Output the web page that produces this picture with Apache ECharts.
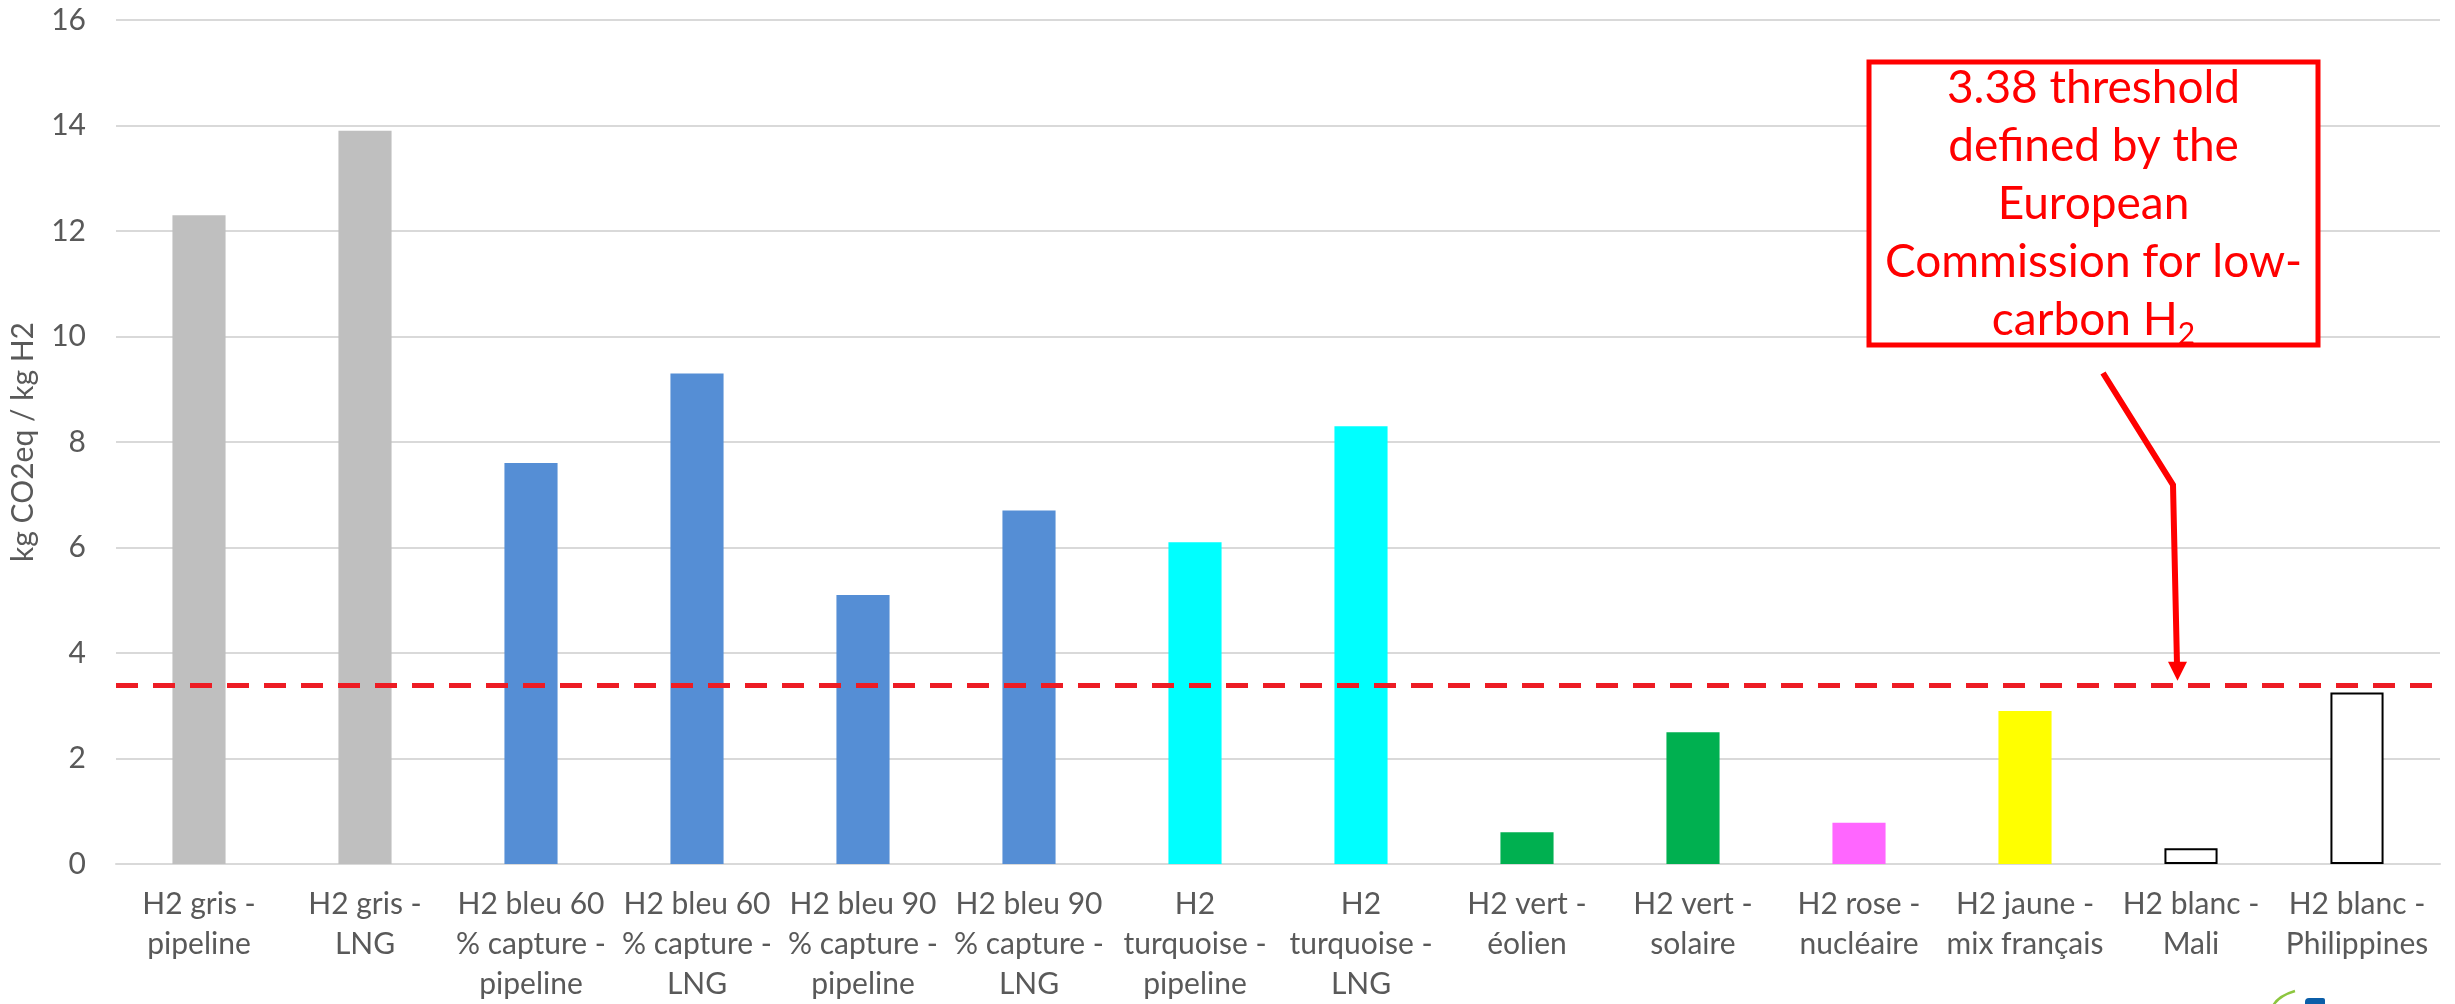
<!DOCTYPE html>
<html>
<head>
<meta charset="utf-8">
<style>
  html, body { margin: 0; padding: 0; background: #ffffff; }
  #chart { width: 2455px; height: 1004px; }
</style>
<script src="https://cdn.jsdelivr.net/npm/echarts@6/dist/echarts.min.js"></script>
</head>
<body>
<div id="chart"></div>
<script>
// Hydrogen production pathways (category labels, wrapped as displayed)
const categories = [
  'H2 gris -\npipeline',
  'H2 gris -\nLNG',
  'H2 bleu 60\n% capture -\npipeline',
  'H2 bleu 60\n% capture -\nLNG',
  'H2 bleu 90\n% capture -\npipeline',
  'H2 bleu 90\n% capture -\nLNG',
  'H2\nturquoise -\npipeline',
  'H2\nturquoise -\nLNG',
  'H2 vert -\néolien',
  'H2 vert -\nsolaire',
  'H2 rose -\nnucléaire',
  'H2 jaune -\nmix français',
  'H2 blanc -\nMali',
  'H2 blanc -\nPhilippines'
];

// Emissions, kg CO2eq per kg H2
const emissions = [12.3, 13.9, 7.6, 9.3, 5.1, 6.7, 6.1, 8.3, 0.6, 2.5, 0.78, 2.9, 0.3, 3.25];

// Colour of each hydrogen "colour"
const barColors = [
  '#BFBFBF', '#BFBFBF',
  '#558ED5', '#558ED5', '#558ED5', '#558ED5',
  '#00FFFF', '#00FFFF',
  '#00B050', '#00B050',
  '#FF66FF',
  '#FFFF00',
  '#FFFFFF', '#FFFFFF'
];

// Value axis range
const yMin = 0;
const yMax = 16;
const yStep = 2;

// Low-carbon threshold set by the European Commission
const THRESHOLD = 3.38;
const noteLines = [
  THRESHOLD + ' threshold',
  'defined by the',
  'European',
  'Commission for low-'
];
const noteLastLine = '{n|carbon H}{s|2}';

const FONT = 'Lato, "Open Sans", sans-serif';
const TEXT_GREY = '#595959';
const GRID_GREY = '#D9D9D9';

const chart = echarts.init(document.getElementById('chart'), null, { renderer: 'canvas' });

const barData = emissions.map((v, i) => {
  const white = barColors[i] === '#FFFFFF';
  return {
    value: v,
    itemStyle: white
      ? { color: '#FFFFFF', borderColor: '#000000', borderWidth: 2 }
      : { color: barColors[i] }
  };
});

chart.setOption({
  animation: false,
  backgroundColor: '#FFFFFF',
  grid: { left: 116, right: 15, top: 20, bottom: 136 },
  xAxis: {
    type: 'category',
    data: categories,
    axisLine: { show: true, lineStyle: { color: GRID_GREY, width: 2 } },
    axisTick: { show: false },
    axisLabel: {
      interval: 0,
      margin: 20,
      color: TEXT_GREY,
      fontFamily: FONT,
      fontSize: 30,
      lineHeight: 40,
      align: 'center'
    }
  },
  yAxis: {
    type: 'value',
    min: yMin,
    max: yMax,
    interval: yStep,
    name: 'kg CO2eq / kg H2',
    nameLocation: 'middle',
    nameRotate: 90,
    nameGap: 78,
    nameTextStyle: { color: TEXT_GREY, fontFamily: FONT, fontSize: 30 },
    axisLine: { show: false },
    axisTick: { show: false },
    axisLabel: { margin: 30, color: TEXT_GREY, fontFamily: FONT, fontSize: 30 },
    splitLine: { show: true, lineStyle: { color: GRID_GREY, width: 2 } }
  },
  series: [{
    type: 'bar',
    data: barData,
    barWidth: '32%',
    markLine: {
      silent: true,
      symbol: ['none', 'none'],
      label: { show: false },
      lineStyle: { color: '#ED1C24', width: 5, type: [22, 15], opacity: 1 },
      emphasis: { disabled: true },
      data: [{ yAxis: THRESHOLD }]
    }
  }]
});

// Annotation box and arrow pointing at the threshold line
const tipY = chart.convertToPixel({ yAxisIndex: 0 }, THRESHOLD) - 5;
const boxX = 1869, boxY = 62, boxW = 449, boxH = 283;
const textCx = boxX + boxW / 2;
const lineH = 58;
const firstLineCy = 88;

const noteTexts = noteLines.map((t, i) => ({
  type: 'text',
  x: textCx,
  y: firstLineCy + i * lineH,
  z: 12,
  style: {
    text: t,
    fill: '#FF0000',
    font: '46px ' + FONT,
    align: 'center',
    verticalAlign: 'middle'
  }
}));

noteTexts.push({
  type: 'text',
  x: textCx,
  y: firstLineCy + noteLines.length * lineH,
  z: 12,
  style: {
    text: noteLastLine,
    align: 'center',
    verticalAlign: 'middle',
    rich: {
      n: { fill: '#FF0000', fontSize: 46, fontFamily: FONT, lineHeight: lineH, verticalAlign: 'middle' },
      s: { fill: '#FF0000', fontSize: 30, fontFamily: FONT, lineHeight: 30, verticalAlign: 'bottom', padding: [0, 0, 0, 0] }
    }
  }
});

chart.setOption({
  graphic: [
    {
      type: 'rect',
      z: 10,
      shape: { x: boxX, y: boxY, width: boxW, height: boxH },
      style: { fill: '#FFFFFF', stroke: '#FF0000', lineWidth: 5 }
    },
    ...noteTexts,
    {
      type: 'polyline',
      z: 10,
      shape: { points: [[2103, 373], [2173, 485], [2177, tipY - 16]] },
      style: { stroke: '#FF0000', lineWidth: 6, fill: null, lineJoin: 'miter' }
    },
    {
      type: 'polygon',
      z: 10,
      shape: { points: [[2168, tipY - 19], [2187, tipY - 19], [2177.5, tipY]] },
      style: { fill: '#FF0000' }
    },
    // partial logo at the bottom edge
    {
      type: 'bezierCurve',
      z: 5,
      shape: { x1: 2273, y1: 1006, cpx1: 2278, cpy1: 996, x2: 2295, y2: 991 },
      style: { stroke: '#8DC63F', lineWidth: 2.5, fill: null }
    },
    {
      type: 'rect',
      z: 5,
      shape: { x: 2305, y: 998, width: 20, height: 8, r: [4, 2, 0, 0] },
      style: { fill: '#0B5EA8' }
    }
  ]
});
</script>
</body>
</html>
